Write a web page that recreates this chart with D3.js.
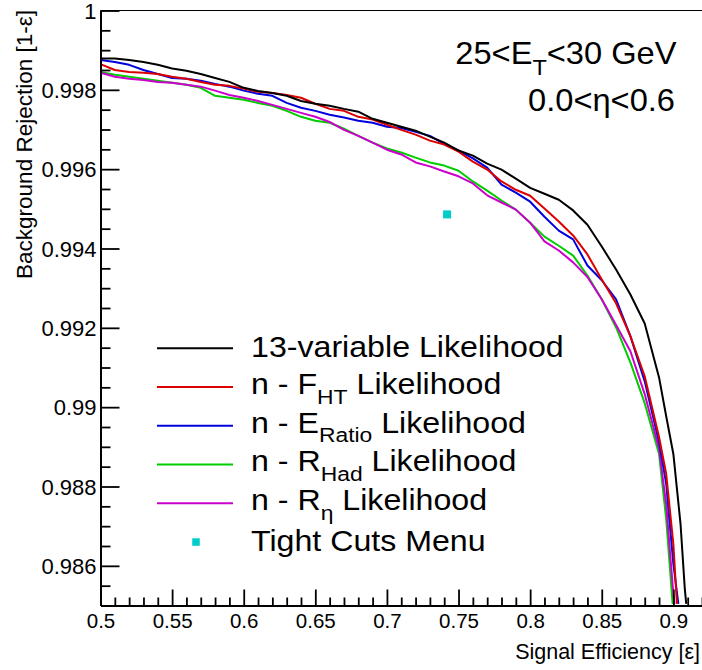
<!DOCTYPE html>
<html>
<head>
<meta charset="utf-8">
<script src="https://cdn.jsdelivr.net/npm/d3@7"></script>
<style>
  body { margin: 0; background: #fff; }
  svg { display: block; }
  text { font-family: "Liberation Sans", Arial, Helvetica, sans-serif; fill: #000; }
</style>
</head>
<body>
<svg id="chart" width="702" height="670"></svg>
<script>
// Signal efficiency grid shared by the likelihood ROC curves
const effGrid = [0.50, 0.51, 0.52, 0.53, 0.54, 0.55, 0.56, 0.57, 0.58, 0.59,
                 0.60, 0.61, 0.62, 0.63, 0.64, 0.65, 0.66, 0.67, 0.68, 0.69,
                 0.70, 0.71, 0.72, 0.73, 0.74, 0.75, 0.76, 0.77, 0.78, 0.79,
                 0.80, 0.81, 0.82, 0.83, 0.84, 0.85, 0.86, 0.87, 0.88, 0.89];

// Background rejection on the grid, one array per likelihood
const rej13Var = [0.99879, 0.99879, 0.99875, 0.99870, 0.99863, 0.99854, 0.99848, 0.99840, 0.99830, 0.99820,
                  0.99805, 0.99797, 0.99792, 0.99785, 0.99772, 0.99765, 0.99760, 0.99752, 0.99745, 0.99727,
                  0.99717, 0.99707, 0.99697, 0.99682, 0.99667, 0.99647, 0.99634, 0.99614, 0.99599, 0.99576,
                  0.99553, 0.99538, 0.99523, 0.99496, 0.99460, 0.99405, 0.99347, 0.99284, 0.99211, 0.99075];
const rejNoFHT = [0.99865, 0.99850, 0.99845, 0.99843, 0.99840, 0.99833, 0.99828, 0.99820, 0.99813, 0.99810,
                  0.99803, 0.99795, 0.99792, 0.99787, 0.99780, 0.99765, 0.99752, 0.99747, 0.99732, 0.99725,
                  0.99712, 0.99699, 0.99687, 0.99672, 0.99662, 0.99644, 0.99619, 0.99599, 0.99569, 0.99548,
                  0.99533, 0.99501, 0.99468, 0.99433, 0.99385, 0.99322, 0.99262, 0.99179, 0.99078, 0.98925];
const rejNoERatio = [0.99875, 0.99870, 0.99863, 0.99850, 0.99840, 0.99830, 0.99828, 0.99823, 0.99815, 0.99808,
                     0.99798, 0.99790, 0.99785, 0.99767, 0.99755, 0.99747, 0.99737, 0.99730, 0.99722, 0.99717,
                     0.99707, 0.99704, 0.99694, 0.99684, 0.99664, 0.99647, 0.99627, 0.99604, 0.99561, 0.99541,
                     0.99518, 0.99480, 0.99445, 0.99423, 0.99357, 0.99320, 0.99272, 0.99179, 0.99065, 0.98912];
const rejNoRHad = [0.99845, 0.99838, 0.99833, 0.99828, 0.99823, 0.99818, 0.99813, 0.99805, 0.99785, 0.99780,
                   0.99775, 0.99767, 0.99760, 0.99747, 0.99732, 0.99722, 0.99717, 0.99702, 0.99684, 0.99667,
                   0.99652, 0.99642, 0.99629, 0.99617, 0.99609, 0.99596, 0.99569, 0.99546, 0.99521, 0.99498,
                   0.99465, 0.99430, 0.99407, 0.99382, 0.99332, 0.99272, 0.99201, 0.99113, 0.99010, 0.98882];
const rejNoREta = [0.99843, 0.99833, 0.99828, 0.99825, 0.99820, 0.99818, 0.99813, 0.99808, 0.99798, 0.99787,
                   0.99780, 0.99772, 0.99762, 0.99752, 0.99742, 0.99732, 0.99719, 0.99699, 0.99684, 0.99667,
                   0.99649, 0.99637, 0.99617, 0.99607, 0.99594, 0.99582, 0.99564, 0.99534, 0.99516, 0.99498,
                   0.99465, 0.99418, 0.99395, 0.99365, 0.99328, 0.99272, 0.99207, 0.99141, 0.99033, 0.98895];

// Steep high-efficiency tails of each curve
const tail13VarEff = [0.895, 0.900, 0.905, 0.908, 0.909];
const tail13VarRej = [0.98977, 0.98882, 0.98706, 0.98542, 0.98504];
const tailNoFHTEff = [0.895, 0.900, 0.9025];
const tailNoFHTRej = [0.98832, 0.98655, 0.98504];
const tailNoERatioEff = [0.895, 0.900, 0.9035];
const tailNoERatioRej = [0.98807, 0.98605, 0.98504];
const tailNoRHadEff = [0.895, 0.8995];
const tailNoRHadRej = [0.98718, 0.98504];
const tailNoREtaEff = [0.895, 0.900, 0.9008];
const tailNoREtaRej = [0.98755, 0.98529, 0.98504];

// Tight cuts working point
const tightEff = [0.742];
const tightRej = [0.99486];

// Axis ticks and labels
const xTicks = [0.5, 0.55, 0.6, 0.65, 0.7, 0.75, 0.8, 0.85, 0.9];
const xTickLabels = ["0.5", "0.55", "0.6", "0.65", "0.7", "0.75", "0.8", "0.85", "0.9"];
const yTicks = [0.986, 0.988, 0.990, 0.992, 0.994, 0.996, 0.998, 1.0];
const yTickLabels = ["0.986", "0.988", "0.99", "0.992", "0.994", "0.996", "0.998", "1"];

// Series names and colours
const seriesColors = ["#000000", "#dd0000", "#0000dd", "#00cc00", "#cc00cc"];
const markerColor = "#00cccc";

const svg = d3.select("#chart");
svg.append("rect").attr("width", 702).attr("height", 670).attr("fill", "#fff");

const plotLeft = 100.5, plotRight = 702, plotTop = 10.5, plotBottom = 605.5;
const x = d3.scaleLinear().domain([0.5, 0.92]).range([plotLeft, plotRight]);
const y = d3.scaleLinear().domain([0.985, 1.0]).range([plotBottom, plotTop]);

svg.append("clipPath").attr("id", "plotClip")
  .append("rect").attr("x", plotLeft).attr("y", plotTop - 1)
  .attr("width", plotRight - plotLeft).attr("height", plotBottom - plotTop + 1);

// Top frame line
svg.append("line")
  .attr("x1", plotLeft).attr("x2", plotRight)
  .attr("y1", plotTop).attr("y2", plotTop)
  .attr("stroke", "#000").attr("stroke-width", 1);

// ROC curves
function toPoints(effs, rejs) { return effs.map((e, i) => [e, rejs[i]]); }
const curves = [
  toPoints(effGrid, rej13Var).concat(toPoints(tail13VarEff, tail13VarRej)),
  toPoints(effGrid, rejNoFHT).concat(toPoints(tailNoFHTEff, tailNoFHTRej)),
  toPoints(effGrid, rejNoERatio).concat(toPoints(tailNoERatioEff, tailNoERatioRej)),
  toPoints(effGrid, rejNoRHad).concat(toPoints(tailNoRHadEff, tailNoRHadRej)),
  toPoints(effGrid, rejNoREta).concat(toPoints(tailNoREtaEff, tailNoREtaRej))
];
const line = d3.line().x(d => x(d[0])).y(d => y(d[1]));
const curveLayer = svg.append("g").attr("clip-path", "url(#plotClip)");
// draw so the black curve ends on top of the coloured ones where they overlap
[3, 4, 2, 1, 0].forEach(i => {
  curveLayer.append("path")
    .attr("d", line(curves[i]))
    .attr("fill", "none")
    .attr("stroke", seriesColors[i])
    .attr("stroke-width", 2)
    .attr("stroke-linejoin", "round");
});

// Tight cuts marker
curveLayer.selectAll("rect.tight").data(tightEff).join("rect")
  .attr("class", "tight")
  .attr("x", (d, i) => x(d) - 4).attr("y", (d, i) => y(tightRej[i]) - 4)
  .attr("width", 8).attr("height", 8)
  .attr("fill", markerColor);

// X axis: major ticks with labels, minor ticks without
const xMinor = d3.range(0.5, 0.9201, 0.01).filter(v => !xTicks.some(t => Math.abs(t - v) < 1e-6));
const xAxisG = svg.append("g").attr("transform", `translate(0,${plotBottom})`);
xAxisG.call(d3.axisBottom(x).tickValues(xTicks)
  .tickFormat((d, i) => xTickLabels[i]).tickSizeInner(-16).tickSizeOuter(0).tickPadding(0));
xAxisG.append("g").call(d3.axisBottom(x).tickValues(xMinor).tickFormat("")
  .tickSizeInner(-8).tickSizeOuter(0));
xAxisG.selectAll(".domain").attr("stroke", "#000").attr("stroke-width", 2);
xAxisG.selectAll(".tick line").attr("stroke", "#000").attr("stroke-width", 1.8);
xAxisG.selectAll(".tick text")
  .attr("y", 22.5).attr("dy", 0)
  .style("font-size", "20.5px").style("font-family", "'Liberation Sans', Arial, sans-serif")
  .attr("fill", "#000");

// Y axis
const yMinor = d3.range(0.9855, 1.0, 0.0005).filter(v => !yTicks.some(t => Math.abs(t - v) < 1e-7));
const yAxisG = svg.append("g").attr("transform", `translate(${plotLeft},0)`);
yAxisG.call(d3.axisLeft(y).tickValues(yTicks)
  .tickFormat((d, i) => yTickLabels[i]).tickSizeInner(-19).tickSizeOuter(0).tickPadding(4));
yAxisG.append("g").call(d3.axisLeft(y).tickValues(yMinor).tickFormat("")
  .tickSizeInner(-10).tickSizeOuter(0));
yAxisG.selectAll(".domain").attr("stroke", "#000").attr("stroke-width", 2);
yAxisG.selectAll(".tick line").attr("stroke", "#000").attr("stroke-width", 1.8);
yAxisG.selectAll(".tick text")
  .attr("dy", 7.5)
  .style("font-size", "22px").style("font-family", "'Liberation Sans', Arial, sans-serif")
  .attr("fill", "#000");

// Axis titles
svg.append("text")
  .attr("x", 700).attr("y", 659).attr("text-anchor", "end")
  .style("font-size", "21.5px")
  .text("Signal Efficiency [ε]");
svg.append("text")
  .attr("transform", "translate(31.5,10) rotate(-90)")
  .attr("text-anchor", "end")
  .style("font-size", "22.5px")
  .text("Background Rejection [1-ε]");

// Text helper: pieces are [string, isSubscript]
function richText(px, py, anchor, size, stretch, pieces, subSize, subDy) {
  const t = svg.append("text")
    .attr("transform", `translate(${px},${py}) scale(${stretch},1)`)
    .attr("text-anchor", anchor)
    .style("font-size", size + "px");
  let shifted = false;
  pieces.forEach(([s, sub]) => {
    const ts = t.append("tspan").text(s);
    if (sub && !shifted) { ts.attr("dy", subDy).style("font-size", subSize + "px"); shifted = true; }
    else if (!sub && shifted) { ts.attr("dy", -subDy); shifted = false; }
    else if (sub) { ts.style("font-size", subSize + "px"); }
  });
  return t;
}

// Kinematic bin labels
richText(676.5, 63.5, "end", 30.5, 1.07, [["25<E", false], ["T", true], ["<30 GeV", false]], 22, 11);
richText(675, 110.5, "end", 30.5, 1.07, [["0.0<η<0.6", false]], 22, 11);

// Legend
const legendEntries = [
  [["13-variable Likelihood", false]],
  [["n - F", false], ["HT", true], [" Likelihood", false]],
  [["n - E", false], ["Ratio", true], [" Likelihood", false]],
  [["n - R", false], ["Had", true], [" Likelihood", false]],
  [["n - R", false], ["η", true], [" Likelihood", false]],
  [["Tight Cuts Menu", false]]
];
const legendTop = 348.3, legendStep = 38.75;
legendEntries.forEach((pieces, i) => {
  const ly = legendTop + i * legendStep;
  if (i < 5) {
    svg.append("line")
      .attr("x1", 157).attr("x2", 233).attr("y1", ly).attr("y2", ly)
      .attr("stroke", seriesColors[i]).attr("stroke-width", 2);
  } else {
    svg.append("rect")
      .attr("x", 196 - 3.75).attr("y", ly - 3.75)
      .attr("width", 7.5).attr("height", 7.5)
      .attr("fill", markerColor);
  }
  const hasSub = pieces.some(p => p[1]);
  richText(251, ly + (hasSub ? 6.7 : 9), "start", 29.5, 1.09, pieces, 21, 9.8);
});
</script>
</body>
</html>
